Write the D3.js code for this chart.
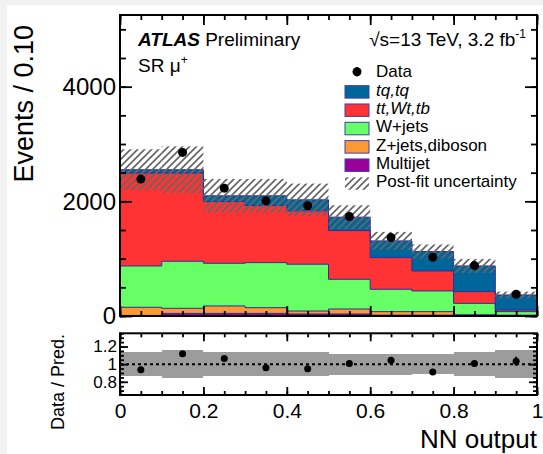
<!DOCTYPE html>
<html>
<head>
<meta charset="utf-8">
<script src="https://cdn.jsdelivr.net/npm/d3@7"></script>
<style>
body { margin: 0; background: #f2f2f2; }
text { font-family: "Liberation Sans", Arial, Helvetica, sans-serif; fill: #000; }
</style>
</head>
<body>
<script>
// NN output bins (lower edges), width 0.1
var binLow = [0.0, 0.1, 0.2, 0.3, 0.4, 0.5, 0.6, 0.7, 0.8, 0.9];
var binWidth = 0.1;

// stacked backgrounds, events per bin (bottom to top)
var multijet = [10, 45, 45, 45, 35, 35, 15, 15, 5, 5];
var zjets    = [142, 89, 130, 100, 52, 87, 61, 61, 18, 10];
var wjets    = [721, 821, 745, 786, 816, 518, 390, 361, 198, 61];
var ttbar    = [1620, 1538, 1077, 997, 931, 850, 553, 349, 204, 29];
var tq       = [58, 58, 99, 168, 192, 234, 291, 338, 448, 262];

var dataCounts = [2388, 2853, 2230, 2009, 1922, 1735, 1368, 1025, 879, 379];
// relative post-fit uncertainty
var relUnc = [0.14, 0.16, 0.14, 0.14, 0.14, 0.12, 0.12, 0.11, 0.14, 0.16];

var xTicks = [0, 0.2, 0.4, 0.6, 0.8, 1];
var yTicks = [0, 2000, 4000];
var ratioTicks = [0.8, 1, 1.2];

var keys = ["multijet", "zjets", "wjets", "ttbar", "tq"];
var colors = {tq: "#006699", ttbar: "#ff3333", wjets: "#66ff66", zjets: "#ff9933", multijet: "#990099"};
var legendLabels = [
    {key: "tq", text: "tq,tq", italic: true},
    {key: "ttbar", text: "tt,Wt,tb", italic: true},
    {key: "wjets", text: "W+jets"},
    {key: "zjets", text: "Z+jets,diboson"},
    {key: "multijet", text: "Multijet"}
];

var W = 543, H = 454;
var svg = d3.select("body").append("svg").attr("width", W).attr("height", H);
svg.append("rect").attr("x", 7).attr("y", 5).attr("width", W - 7).attr("height", H - 5).attr("fill", "#fff");

var defs = svg.append("defs");
defs.append("pattern").attr("id", "hatch")
    .attr("patternUnits", "userSpaceOnUse").attr("width", 7).attr("height", 7)
    .append("path").attr("d", "M-1,8 L8,-1 M-1,1 L1,-1 M6,8 L8,6")
    .attr("stroke", "#666").attr("stroke-width", 1.7);

var x = d3.scaleLinear().domain([0, 1]).range([120, 537]);
var y = d3.scaleLinear().domain([0, 5250]).range([316, 15]);
var yr = d3.scaleLinear().domain([0.65, 1.35]).range([395, 333.3]);

// table for d3.stack
var table = binLow.map(function (b, i) {
    return {x: b, multijet: multijet[i], zjets: zjets[i], wjets: wjets[i], ttbar: ttbar[i], tq: tq[i]};
});
var series = d3.stack().keys(keys)(table);
var pred = table.map(function (d) { return d.multijet + d.zjets + d.wjets + d.ttbar + d.tq; });

// step helpers: repeat the last bin at the upper edge
function stepPoints(arr) {
    var pts = arr.map(function (d, i) { return {x: binLow[i], y0: d[0], y1: d[1]}; });
    var last = pts[pts.length - 1];
    pts.push({x: last.x + binWidth, y0: last.y0, y1: last.y1});
    return pts;
}
var area = d3.area().x(function (d) { return x(d.x); })
    .y0(function (d) { return y(d.y0); }).y1(function (d) { return y(d.y1); })
    .curve(d3.curveStepAfter);
var topLine = d3.line().x(function (d) { return x(d.x); })
    .y(function (d) { return y(d.y1); }).curve(d3.curveStepAfter);

var main = svg.append("g");
series.forEach(function (s) {
    main.append("path").attr("d", area(stepPoints(s))).attr("fill", colors[s.key]).attr("stroke", "none");
});
series.forEach(function (s) {
    main.append("path").attr("d", topLine(stepPoints(s))).attr("fill", "none")
        .attr("stroke", "#2a2aa0").attr("stroke-width", 1);
});

// uncertainty hatch
main.selectAll("rect.unc").data(pred).enter().append("rect")
    .attr("class", "unc")
    .attr("x", function (d, i) { return x(binLow[i]); })
    .attr("width", function (d, i) { return x(binLow[i] + binWidth) - x(binLow[i]); })
    .attr("y", function (d, i) { return y(d * (1 + relUnc[i])); })
    .attr("height", function (d, i) { return y(d * (1 - relUnc[i])) - y(d * (1 + relUnc[i])); })
    .attr("fill", "url(#hatch)");

// data points
main.selectAll("line.err").data(dataCounts).enter().append("line")
    .attr("x1", function (d, i) { return x(binLow[i] + binWidth / 2); })
    .attr("x2", function (d, i) { return x(binLow[i] + binWidth / 2); })
    .attr("y1", function (d) { return y(d + Math.sqrt(d)); })
    .attr("y2", function (d) { return y(d - Math.sqrt(d)); })
    .attr("stroke", "#000").attr("stroke-width", 2);
main.selectAll("circle.data").data(dataCounts).enter().append("circle")
    .attr("cx", function (d, i) { return x(binLow[i] + binWidth / 2); })
    .attr("cy", function (d) { return y(d); })
    .attr("r", 4.5).attr("fill", "#000");

// ratio panel
var ratio = svg.append("g");
ratio.selectAll("rect.band").data(relUnc).enter().append("rect")
    .attr("x", function (d, i) { return x(binLow[i]); })
    .attr("width", function (d, i) { return x(binLow[i] + binWidth) - x(binLow[i]); })
    .attr("y", function (d) { return yr(1 + d); })
    .attr("height", function (d) { return yr(1 - d) - yr(1 + d); })
    .attr("fill", "#9c9c9c").attr("shape-rendering", "crispEdges");
ratio.append("line").attr("x1", x(0)).attr("x2", x(1)).attr("y1", yr(1)).attr("y2", yr(1))
    .attr("stroke", "#000").attr("stroke-width", 2).attr("stroke-dasharray", "3,3");
ratio.selectAll("line.rerr").data(dataCounts).enter().append("line")
    .attr("x1", function (d, i) { return x(binLow[i] + binWidth / 2); })
    .attr("x2", function (d, i) { return x(binLow[i] + binWidth / 2); })
    .attr("y1", function (d, i) { return yr((d + Math.sqrt(d)) / pred[i]); })
    .attr("y2", function (d, i) { return yr((d - Math.sqrt(d)) / pred[i]); })
    .attr("stroke", "#000").attr("stroke-width", 1.6);
ratio.selectAll("circle.rdata").data(dataCounts).enter().append("circle")
    .attr("cx", function (d, i) { return x(binLow[i] + binWidth / 2); })
    .attr("cy", function (d, i) { return yr(d / pred[i]); })
    .attr("r", 3.5).attr("fill", "#000");

// axes: inward ticks on all four sides
function ticks(gen, scale, vals, size, tx, ty, fmt, fs, pad) {
    var a = gen(scale).tickValues(vals).tickSizeInner(size).tickSizeOuter(0)
        .tickPadding(pad || 4).tickFormat(fmt || function () { return ""; });
    var g = svg.append("g").attr("transform", "translate(" + tx + "," + ty + ")").call(a);
    g.select(".domain").remove();
    g.selectAll("line").attr("stroke", "#000").attr("stroke-width", 1.8);
    g.selectAll("text").attr("font-size", fs || 10);
    return g;
}
var xMinor = d3.range(0, 1.0001, 0.05);
var yMinor = d3.range(0, 5250, 500);
var rMinor = d3.range(0.7, 1.351, 0.05);
var fmtNum = function (d) { return String(d); };

// main panel
ticks(d3.axisLeft, y, yMinor, -6, 120, 0);
ticks(d3.axisLeft, y, yTicks, -12, 120, 0, fmtNum, 24, 4);
ticks(d3.axisRight, y, yMinor, -6, 537, 0);
ticks(d3.axisRight, y, yTicks, -12, 537, 0);
ticks(d3.axisBottom, x, xMinor, -5, 0, 316);
ticks(d3.axisBottom, x, xTicks, -10, 0, 316);
ticks(d3.axisTop, x, xMinor, -5, 0, 15);
ticks(d3.axisTop, x, xTicks, -10, 0, 15);

// ratio panel
ticks(d3.axisLeft, yr, rMinor, -4, 120, 0);
ticks(d3.axisLeft, yr, ratioTicks, -8, 120, 0, fmtNum, 17, 3);
ticks(d3.axisRight, yr, rMinor, -4, 537, 0);
ticks(d3.axisRight, yr, ratioTicks, -8, 537, 0);
ticks(d3.axisBottom, x, xMinor, -4, 0, 395);
ticks(d3.axisBottom, x, xTicks, -8, 0, 395, fmtNum, 21, 8);
ticks(d3.axisTop, x, xMinor, -4, 0, 333.3);
ticks(d3.axisTop, x, xTicks, -8, 0, 333.3);

// frames
svg.append("rect").attr("x", 120).attr("y", 15).attr("width", 417).attr("height", 301)
    .attr("fill", "none").attr("stroke", "#000").attr("stroke-width", 2);
svg.append("rect").attr("x", 120).attr("y", 333.3).attr("width", 417).attr("height", 61.7)
    .attr("fill", "none").attr("stroke", "#000").attr("stroke-width", 2);

// axis titles
svg.append("text").attr("transform", "translate(33,25) rotate(-90)")
    .attr("text-anchor", "end").attr("font-size", 27).text("Events / 0.10");
svg.append("text").attr("transform", "translate(64,334) rotate(-90)")
    .attr("text-anchor", "end").attr("font-size", 18).text("Data / Pred.");
svg.append("text").attr("x", 537).attr("y", 448).attr("text-anchor", "end")
    .attr("font-size", 26).text("NN output");

// labels
var atlas = svg.append("text").attr("x", 138).attr("y", 46).attr("font-size", 19);
atlas.append("tspan").attr("font-weight", "bold").attr("font-style", "italic").text("ATLAS");
atlas.append("tspan").text(" Preliminary");

var lumi = svg.append("text").attr("x", 526).attr("y", 46).attr("font-size", 19).attr("text-anchor", "end");
lumi.append("tspan").text("\u221As=13 TeV, 3.2 fb");
lumi.append("tspan").attr("font-size", 12).attr("dy", -8).text("-1");

var sr = svg.append("text").attr("x", 138).attr("y", 72).attr("font-size", 19);
sr.append("tspan").text("SR \u03BC");
sr.append("tspan").attr("font-size", 12).attr("dy", -8).text("+");

// legend
var leg = svg.append("g");
var legX = 345, legText = 376, legBase = 77.3, legStep = 18.33;
leg.append("line").attr("x1", 357).attr("x2", 357).attr("y1", legBase - 10).attr("y2", legBase - 1)
    .attr("stroke", "#000").attr("stroke-width", 2);
leg.append("circle").attr("cx", 357).attr("cy", legBase - 5.5).attr("r", 4.5).attr("fill", "#000");
leg.append("text").attr("x", legText).attr("y", legBase).attr("font-size", 17).text("Data");
legendLabels.forEach(function (l, i) {
    var base = legBase + legStep * (i + 1);
    leg.append("rect").attr("x", legX).attr("y", base - 10).attr("width", 24).attr("height", 12.5)
        .attr("fill", colors[l.key]).attr("stroke", "#4040b0").attr("stroke-width", 1);
    leg.append("text").attr("x", legText).attr("y", base).attr("font-size", 17)
        .attr("font-style", l.italic ? "italic" : null).text(l.text);
});
var hb = legBase + legStep * 6;
leg.append("rect").attr("x", legX).attr("y", hb - 10).attr("width", 24).attr("height", 12.5)
    .attr("fill", "url(#hatch)");
leg.append("text").attr("x", legText).attr("y", hb).attr("font-size", 17).text("Post-fit uncertainty");
</script>
</body>
</html>
